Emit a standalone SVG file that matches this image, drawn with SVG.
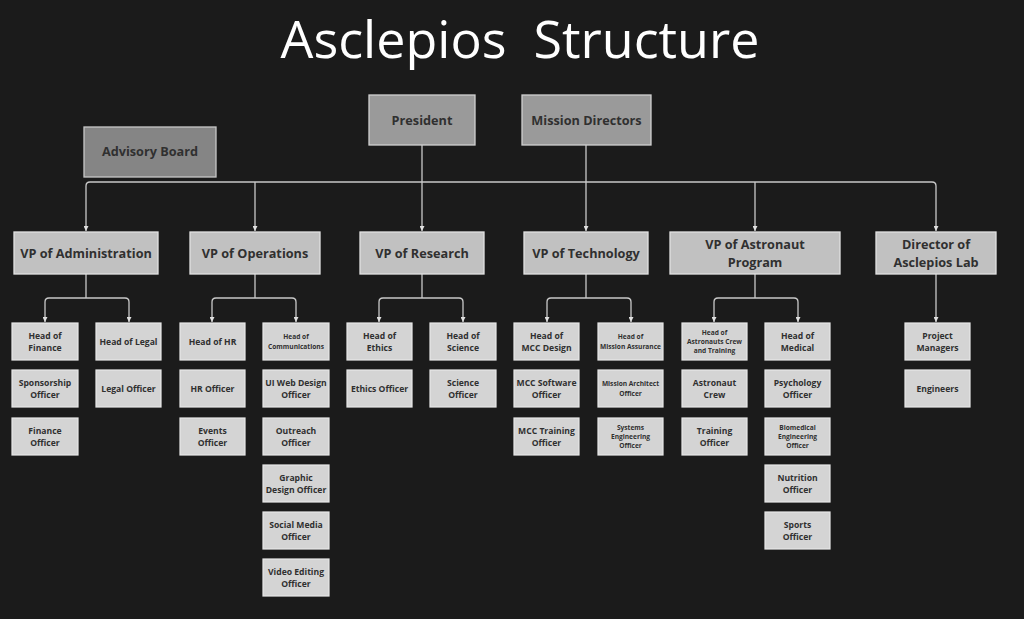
<svg xmlns="http://www.w3.org/2000/svg" width="1024" height="619" viewBox="0 0 1024 619">
<style>
.bg{fill:#1b1b1b}
.title{font-family:"Open Sans","Noto Sans",sans-serif;font-size:52px;fill:#ffffff;white-space:pre}
.top{fill:#9a9a9a;stroke:#d0d0d0;stroke-width:1.3}
.adv{fill:#858585;stroke:#c8c8c8;stroke-width:1.3}
.vp{fill:#c1c1c1;stroke:#e2e2e2;stroke-width:1.3}
.sub{fill:#d4d4d4;stroke:#e8e8e8;stroke-width:1.2}
text{font-family:"Open Sans","Noto Sans",sans-serif;font-weight:700;fill:#303030;text-anchor:middle}
.l{font-size:12.7px}
.m{font-size:8.6px}
.s{font-size:6.6px}
.c{fill:none;stroke:#c9c9c9;stroke-width:1.3}
</style>
<defs>
<marker id="ah" viewBox="0 0 6 6" refX="6" refY="3" markerWidth="6" markerHeight="5" markerUnits="userSpaceOnUse" orient="auto">
<path d="M0,0 L6,3 L0,6 z" fill="#e0e0e0"/>
</marker>
</defs>
<rect class="bg" x="0" y="0" width="1024" height="619"/>
<text class="title" x="520" y="58" style="font-weight:400;fill:#ffffff" xml:space="preserve">Asclepios  Structure</text>

<g id="connectors">
<path class="c" d="M90,182 H932"/>
<path class="c" d="M422,145 V231" marker-end="url(#ah)"/>
<path class="c" d="M586,145 V231" marker-end="url(#ah)"/>
<path class="c" d="M90,182 Q86,182 86,186 V231" marker-end="url(#ah)"/>
<path class="c" d="M255,182 V231" marker-end="url(#ah)"/>
<path class="c" d="M755,182 V231" marker-end="url(#ah)"/>
<path class="c" d="M932,182 Q936,182 936,186 V231" marker-end="url(#ah)"/>
<path class="c" d="M86,274 V298"/>
<path class="c" d="M49,298 H125"/>
<path class="c" d="M49,298 Q45,298 45,302 V322" marker-end="url(#ah)"/>
<path class="c" d="M125,298 Q129,298 129,302 V322" marker-end="url(#ah)"/>
<path class="c" d="M255,274 V298"/>
<path class="c" d="M216,298 H292"/>
<path class="c" d="M216,298 Q212,298 212,302 V322" marker-end="url(#ah)"/>
<path class="c" d="M292,298 Q296,298 296,302 V322" marker-end="url(#ah)"/>
<path class="c" d="M422,274 V298"/>
<path class="c" d="M383,298 H459"/>
<path class="c" d="M383,298 Q379,298 379,302 V322" marker-end="url(#ah)"/>
<path class="c" d="M459,298 Q463,298 463,302 V322" marker-end="url(#ah)"/>
<path class="c" d="M586,274 V298"/>
<path class="c" d="M551,298 H627"/>
<path class="c" d="M551,298 Q547,298 547,302 V322" marker-end="url(#ah)"/>
<path class="c" d="M627,298 Q631,298 631,302 V322" marker-end="url(#ah)"/>
<path class="c" d="M755,274 V298"/>
<path class="c" d="M718,298 H794"/>
<path class="c" d="M718,298 Q714,298 714,302 V322" marker-end="url(#ah)"/>
<path class="c" d="M794,298 Q798,298 798,302 V322" marker-end="url(#ah)"/>
<path class="c" d="M936,274 V322" marker-end="url(#ah)"/>
</g>

<g id="president"><rect class="top" x="369" y="95" width="106" height="50"/><text class="l" x="422" y="124.6">President</text></g>
<g id="mission-directors"><rect class="top" x="522" y="95" width="129" height="50"/><text class="l" x="586.5" y="124.6">Mission Directors</text></g>
<g id="advisory-board"><rect class="adv" x="84" y="127" width="132" height="50"/><text class="l" x="150" y="156.4">Advisory Board</text></g>

<g id="vp-administration"><rect class="vp" x="14" y="232" width="144" height="42"/><text class="l" x="86" y="257.6">VP of Administration</text></g>
<g id="vp-operations"><rect class="vp" x="190" y="232" width="130" height="42"/><text class="l" x="255" y="257.6">VP of Operations</text></g>
<g id="vp-research"><rect class="vp" x="360" y="232" width="124" height="42"/><text class="l" x="422" y="257.6">VP of Research</text></g>
<g id="vp-technology"><rect class="vp" x="524" y="232" width="124" height="42"/><text class="l" x="586" y="257.6">VP of Technology</text></g>
<g id="vp-astronaut"><rect class="vp" x="670" y="232" width="170" height="42"/><text class="l"><tspan x="755" y="248.7">VP of Astronaut</tspan><tspan x="755" y="266.7">Program</tspan></text></g>
<g id="director-lab"><rect class="vp" x="876" y="232" width="120" height="42"/><text class="l"><tspan x="936" y="248.7">Director of</tspan><tspan x="936" y="266.7">Asclepios Lab</tspan></text></g>

<g id="head-finance"><rect class="sub" x="12" y="323" width="66" height="37"/><text class="m"><tspan x="45" y="338.7">Head of</tspan><tspan x="45" y="350.7">Finance</tspan></text></g>
<g id="sponsorship-officer"><rect class="sub" x="12" y="370" width="66" height="37"/><text class="m"><tspan x="45" y="385.7">Sponsorship</tspan><tspan x="45" y="397.7">Officer</tspan></text></g>
<g id="finance-officer"><rect class="sub" x="12" y="418" width="66" height="37"/><text class="m"><tspan x="45" y="433.7">Finance</tspan><tspan x="45" y="445.7">Officer</tspan></text></g>
<g id="head-legal"><rect class="sub" x="96" y="323" width="65" height="37"/><text class="m" x="128.5" y="344.6">Head of Legal</text></g>
<g id="legal-officer"><rect class="sub" x="96" y="370" width="65" height="37"/><text class="m" x="128.5" y="391.6">Legal Officer</text></g>

<g id="head-hr"><rect class="sub" x="180" y="323" width="65" height="37"/><text class="m" x="212.5" y="344.6">Head of HR</text></g>
<g id="hr-officer"><rect class="sub" x="180" y="370" width="65" height="37"/><text class="m" x="212.5" y="391.6">HR Officer</text></g>
<g id="events-officer"><rect class="sub" x="180" y="418" width="65" height="37"/><text class="m"><tspan x="212.5" y="433.7">Events</tspan><tspan x="212.5" y="445.7">Officer</tspan></text></g>
<g id="head-communications"><rect class="sub" x="263" y="323" width="66" height="37"/><text class="s"><tspan x="296" y="339.3">Head of</tspan><tspan x="296" y="348.6">Communications</tspan></text></g>
<g id="ui-web-design-officer"><rect class="sub" x="263" y="370" width="66" height="37"/><text class="m"><tspan x="296" y="385.7">UI Web Design</tspan><tspan x="296" y="397.7">Officer</tspan></text></g>
<g id="outreach-officer"><rect class="sub" x="263" y="418" width="66" height="37"/><text class="m"><tspan x="296" y="433.7">Outreach</tspan><tspan x="296" y="445.7">Officer</tspan></text></g>
<g id="graphic-design-officer"><rect class="sub" x="263" y="465" width="66" height="37"/><text class="m"><tspan x="296" y="480.7">Graphic</tspan><tspan x="296" y="492.7">Design Officer</tspan></text></g>
<g id="social-media-officer"><rect class="sub" x="263" y="512" width="66" height="37"/><text class="m"><tspan x="296" y="527.7">Social Media</tspan><tspan x="296" y="539.7">Officer</tspan></text></g>
<g id="video-editing-officer"><rect class="sub" x="263" y="559" width="66" height="37"/><text class="m"><tspan x="296" y="574.7">Video Editing</tspan><tspan x="296" y="586.7">Officer</tspan></text></g>

<g id="head-ethics"><rect class="sub" x="347" y="323" width="65" height="37"/><text class="m"><tspan x="379.5" y="338.7">Head of</tspan><tspan x="379.5" y="350.7">Ethics</tspan></text></g>
<g id="ethics-officer"><rect class="sub" x="347" y="370" width="65" height="37"/><text class="m" x="379.5" y="391.6">Ethics Officer</text></g>
<g id="head-science"><rect class="sub" x="430" y="323" width="66" height="37"/><text class="m"><tspan x="463" y="338.7">Head of</tspan><tspan x="463" y="350.7">Science</tspan></text></g>
<g id="science-officer"><rect class="sub" x="430" y="370" width="66" height="37"/><text class="m"><tspan x="463" y="385.7">Science</tspan><tspan x="463" y="397.7">Officer</tspan></text></g>

<g id="head-mcc-design"><rect class="sub" x="514" y="323" width="65" height="37"/><text class="m"><tspan x="546.5" y="338.7">Head of</tspan><tspan x="546.5" y="350.7">MCC Design</tspan></text></g>
<g id="mcc-software-officer"><rect class="sub" x="514" y="370" width="65" height="37"/><text class="m"><tspan x="546.5" y="385.7">MCC Software</tspan><tspan x="546.5" y="397.7">Officer</tspan></text></g>
<g id="mcc-training-officer"><rect class="sub" x="514" y="418" width="65" height="37"/><text class="m"><tspan x="546.5" y="433.7">MCC Training</tspan><tspan x="546.5" y="445.7">Officer</tspan></text></g>
<g id="head-mission-assurance"><rect class="sub" x="598" y="323" width="65" height="37"/><text class="s"><tspan x="630.5" y="339.3">Head of</tspan><tspan x="630.5" y="348.6">Mission Assurance</tspan></text></g>
<g id="mission-architect-officer"><rect class="sub" x="598" y="370" width="65" height="37"/><text class="s"><tspan x="630.5" y="386.3">Mission Architect</tspan><tspan x="630.5" y="395.6">Officer</tspan></text></g>
<g id="systems-engineering-officer"><rect class="sub" x="598" y="418" width="65" height="37"/><text class="s"><tspan x="630.5" y="429.7">Systems</tspan><tspan x="630.5" y="439">Engineering</tspan><tspan x="630.5" y="448.3">Officer</tspan></text></g>

<g id="head-astronauts-crew"><rect class="sub" x="682" y="323" width="65" height="37"/><text class="s"><tspan x="714.5" y="334.7">Head of</tspan><tspan x="714.5" y="344">Astronauts Crew</tspan><tspan x="714.5" y="353.3">and Training</tspan></text></g>
<g id="astronaut-crew"><rect class="sub" x="682" y="370" width="65" height="37"/><text class="m"><tspan x="714.5" y="385.7">Astronaut</tspan><tspan x="714.5" y="397.7">Crew</tspan></text></g>
<g id="training-officer"><rect class="sub" x="682" y="418" width="65" height="37"/><text class="m"><tspan x="714.5" y="433.7">Training</tspan><tspan x="714.5" y="445.7">Officer</tspan></text></g>
<g id="head-medical"><rect class="sub" x="765" y="323" width="65" height="37"/><text class="m"><tspan x="797.5" y="338.7">Head of</tspan><tspan x="797.5" y="350.7">Medical</tspan></text></g>
<g id="psychology-officer"><rect class="sub" x="765" y="370" width="65" height="37"/><text class="m"><tspan x="797.5" y="385.7">Psychology</tspan><tspan x="797.5" y="397.7">Officer</tspan></text></g>
<g id="biomedical-engineering-officer"><rect class="sub" x="765" y="418" width="65" height="37"/><text class="s"><tspan x="797.5" y="429.7">Biomedical</tspan><tspan x="797.5" y="439">Engineering</tspan><tspan x="797.5" y="448.3">Officer</tspan></text></g>
<g id="nutrition-officer"><rect class="sub" x="765" y="465" width="65" height="37"/><text class="m"><tspan x="797.5" y="480.7">Nutrition</tspan><tspan x="797.5" y="492.7">Officer</tspan></text></g>
<g id="sports-officer"><rect class="sub" x="765" y="512" width="65" height="37"/><text class="m"><tspan x="797.5" y="527.7">Sports</tspan><tspan x="797.5" y="539.7">Officer</tspan></text></g>

<g id="project-managers"><rect class="sub" x="905" y="323" width="65" height="37"/><text class="m"><tspan x="937.5" y="338.7">Project</tspan><tspan x="937.5" y="350.7">Managers</tspan></text></g>
<g id="engineers"><rect class="sub" x="905" y="370" width="65" height="37"/><text class="m" x="937.5" y="391.6">Engineers</text></g>
</svg>
